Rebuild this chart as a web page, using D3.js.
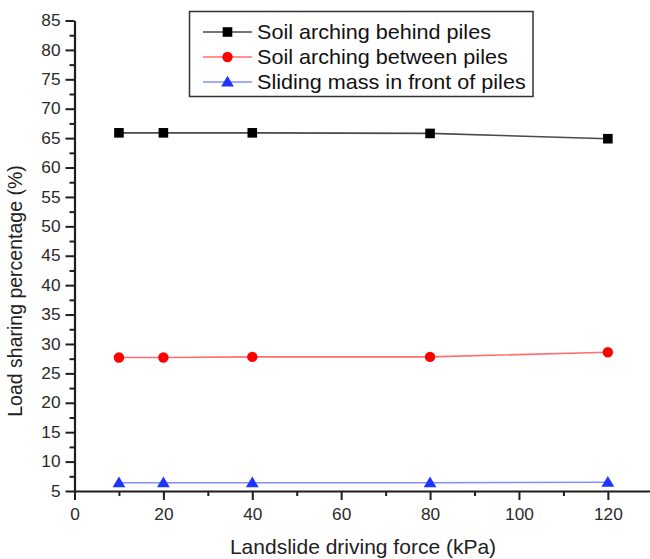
<!DOCTYPE html>
<html>
<head>
<meta charset="utf-8">
<script src="https://cdn.jsdelivr.net/npm/d3@7"></script>
<style>
  html, body { margin: 0; padding: 0; background: #fff; }
  svg { display: block; font-family: "Liberation Sans", Arial, sans-serif; }
</style>
</head>
<body>
<svg id="chart" width="650" height="559"></svg>
<script>
// Load sharing percentage vs. landslide driving force
const drivingForce = [10, 20, 40, 80, 120];
const behindPiles = [65.9, 65.9, 65.9, 65.8, 64.9];
const betweenPiles = [27.7, 27.7, 27.8, 27.8, 28.6];
const frontOfPiles = [6.4, 6.4, 6.4, 6.4, 6.5];

const xMajorTicks = [0, 20, 40, 60, 80, 100, 120];
const xMinorTicks = [10, 30, 50, 70, 90, 110, 130];
const yMajorTicks = [5, 10, 15, 20, 25, 30, 35, 40, 45, 50, 55, 60, 65, 70, 75, 80, 85];
const yMinorTicks = d3.range(7.5, 85, 5);

const seriesNames = ["Soil arching behind piles", "Soil arching between piles", "Sliding mass in front of piles"];
const xTitle = "Landslide driving force (kPa)";
const yTitle = "Load sharing percentage (%)";

const series = [
  { name: seriesNames[0], values: behindPiles, marker: "square", fill: "#000000", line: "#4a4a4a" },
  { name: seriesNames[1], values: betweenPiles, marker: "circle", fill: "#ff0000", line: "#ff6e6e" },
  { name: seriesNames[2], values: frontOfPiles, marker: "triangle", fill: "#1f34ff", line: "#8090ff" }
];

const SX = 1.08; // slight horizontal glyph stretch
const svg = d3.select("#chart");

const x = d3.scaleLinear().domain([0, 130]).range([74.5, 652.3]);
const y = d3.scaleLinear().domain([5, 85]).range([491, 20.5]);

const axisColor = "#1e1e1e";

// X axis
const gx = svg.append("g").attr("transform", `translate(0,${y(5)})`);
gx.call(d3.axisBottom(x).tickValues(xMinorTicks).tickSize(5).tickSizeOuter(0).tickFormat(""));
gx.call(g => g.select(".domain").remove());
const gx2 = svg.append("g").attr("transform", `translate(0,${y(5)})`);
gx2.call(d3.axisBottom(x).tickValues(xMajorTicks).tickSize(9).tickSizeOuter(0).tickPadding(5));
gx2.selectAll("text")
  .attr("font-size", 16).attr("fill", "#2a2a2a")
  .attr("font-family", "Liberation Sans, Arial, sans-serif")
  .attr("y", 29.3).attr("dy", null)
  .attr("transform", `scale(${SX},1)`);

// Y axis
const gy = svg.append("g").attr("transform", `translate(${x(0)},0)`);
gy.call(d3.axisLeft(y).tickValues(yMinorTicks).tickSize(5).tickSizeOuter(0).tickFormat(""));
gy.call(g => g.select(".domain").remove());
const gy2 = svg.append("g").attr("transform", `translate(${x(0)},0)`);
gy2.call(d3.axisLeft(y).tickValues(yMajorTicks).tickSize(9).tickSizeOuter(0).tickPadding(0));
gy2.selectAll("text")
  .attr("font-size", 16).attr("fill", "#2a2a2a")
  .attr("font-family", "Liberation Sans, Arial, sans-serif")
  .attr("x", -14 / SX)
  .attr("transform", `scale(${SX},1)`);

svg.selectAll(".domain").attr("stroke", axisColor).attr("stroke-width", 2.2);
svg.selectAll(".tick line").attr("stroke", axisColor).attr("stroke-width", 2);

// Axis titles
svg.append("text")
  .attr("transform", `translate(363,554.3)`)
  .attr("text-anchor", "middle")
  .attr("font-size", 21).attr("fill", "#222")
  .text(xTitle);

svg.append("text")
  .attr("transform", `translate(22,291) rotate(-90)`)
  .attr("text-anchor", "middle")
  .attr("font-size", 19.5).attr("fill", "#222")
  .text(yTitle);

// Marker drawing
function drawMarker(sel, kind, fill) {
  if (kind === "square") {
    sel.append("rect").attr("x", -4.8).attr("y", -4.8).attr("width", 9.6).attr("height", 9.6).attr("fill", fill);
  } else if (kind === "circle") {
    sel.append("circle").attr("r", 5.2).attr("fill", fill);
  } else {
    sel.append("path").attr("d", "M0,-6.2 L6.4,4.6 L-6.4,4.6 Z").attr("fill", fill);
  }
}

const line = d3.line().x(d => x(d[0])).y(d => y(d[1]));

series.forEach(s => {
  const pts = drivingForce.map((v, i) => [v, s.values[i]]);
  svg.append("path")
    .datum(pts)
    .attr("d", line)
    .attr("fill", "none")
    .attr("stroke", s.line)
    .attr("stroke-width", 1.6);
  svg.append("g").selectAll("g")
    .data(pts)
    .join("g")
    .attr("transform", d => `translate(${x(d[0])},${y(d[1])})`)
    .each(function () { drawMarker(d3.select(this), s.marker, s.fill); });
});

// Legend
const legend = svg.append("g");
legend.append("rect")
  .attr("x", 189.5).attr("y", 11.5).attr("width", 343.5).attr("height", 85)
  .attr("fill", "#fff").attr("stroke", "#333").attr("stroke-width", 1.5);

series.forEach((s, i) => {
  const cy = 32 + i * 25;
  const row = legend.append("g");
  row.append("line")
    .attr("x1", 203).attr("x2", 252).attr("y1", cy).attr("y2", cy)
    .attr("stroke", s.line).attr("stroke-width", 1.6);
  const m = row.append("g").attr("transform", `translate(227.5,${cy})`);
  drawMarker(m, s.marker, s.fill);
  row.append("text")
    .attr("transform", `translate(257,${cy + 7}) scale(${SX},1)`)
    .attr("font-size", 20).attr("fill", "#111")
    .text(s.name);
});
</script>
</body>
</html>
